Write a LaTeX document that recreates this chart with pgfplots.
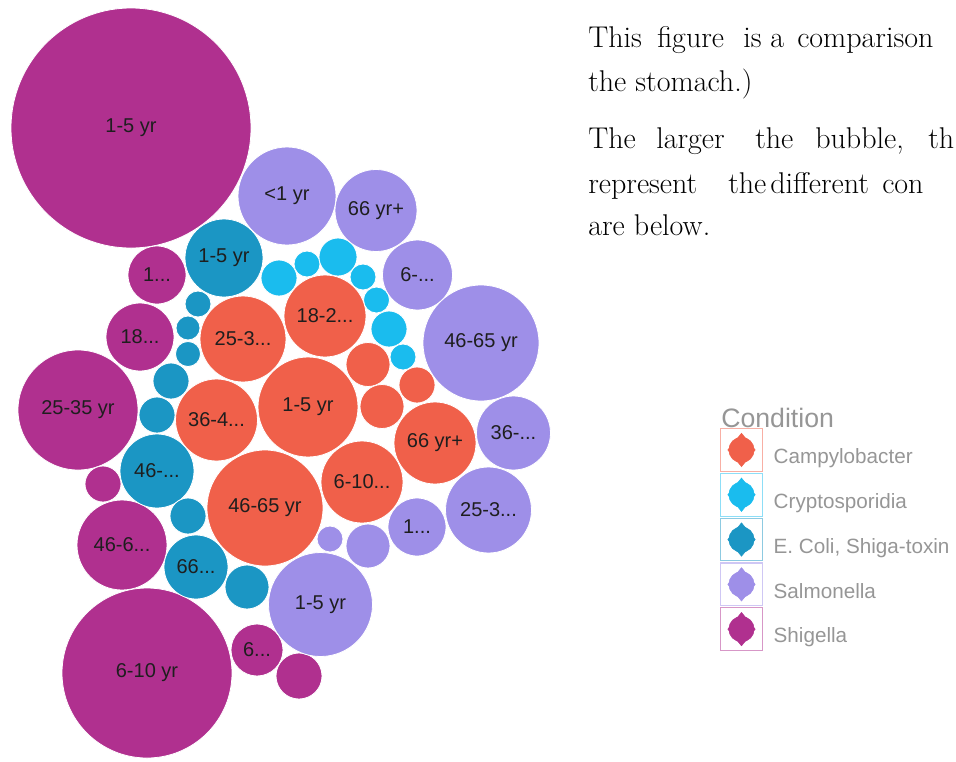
\documentclass[border=0pt]{standalone}
\usepackage{fontspec}
\usepackage{pgfplots}
\usepackage{pgfplotstable}
\pgfplotsset{compat=1.18}
\newfontfamily\chartfont{Liberation Sans}
\definecolor{campy}{RGB}{240,96,74}
\definecolor{crypto}{RGB}{26,188,238}
\definecolor{ecoli}{RGB}{27,150,196}
\definecolor{salm}{RGB}{158,143,232}
\definecolor{shig}{RGB}{176,48,143}
\definecolor{labtext}{RGB}{30,30,30}
\definecolor{legtext}{RGB}{150,150,150}
\newcommand\paratext{\fontsize{22.5}{27}\selectfont}
% x, y = bubble centre (pixels from top left), r = radius (pixels)
\pgfplotstableread[col sep=comma, row sep=\\]{
x,y,r,lab\\
131,128,120,1-5 yr\\
157,275,29,1...\\
140,337,34,18...\\
78,410,60,25-35 yr\\
103,484,18,~\\
122,545,45,46-6...\\
147,673,85,6-10 yr\\
257,650,26,6...\\
299,676,23,~\\
}\shigtab
\pgfplotstableread[col sep=comma, row sep=\\]{
x,y,r,lab\\
224,258,39,1-5 yr\\
198,304,13,~\\
188,328,12,~\\
188,354,12.5,~\\
171,381,18,~\\
157,415,18,~\\
157,471,37,46-...\\
188,516,18,~\\
196,567,32,66...\\
247,587,22,~\\
}\ecolitab
\pgfplotstableread[col sep=comma, row sep=\\]{
x,y,r,lab\\
279,278,18,~\\
307,264,13,~\\
338,257,19,~\\
363,277,13,~\\
376.5,300,13,~\\
389,329,18,~\\
403,357,13,~\\
}\cryptotab
\pgfplotstableread[col sep=comma, row sep=\\]{
x,y,r,lab\\
243,339,43,25-3...\\
325,316,41,18-2...\\
308,407,50,1-5 yr\\
216.5,420,41,36-4...\\
265,508,58,46-65 yr\\
362,482,41,6-10...\\
435,443,41,66 yr+\\
368,364.5,22,~\\
382,406.5,22,~\\
417,385,18,~\\
}\campytab
\pgfplotstableread[col sep=comma, row sep=\\]{
x,y,r,lab\\
287,196,49,<1 yr\\
376,210.5,41,66 yr+\\
417.5,275,35,6-...\\
481,343,58,46-65 yr\\
513.5,433,37,36-...\\
488.5,510,43,25-3...\\
417,527,29,1...\\
368,546,22,~\\
330,539,13,~\\
320.5,604.5,52,1-5 yr\\
}\salmtab
\pgfplotsset{
  bub/.style={scatter, only marks, mark=*, point meta=explicit,
    point meta min=0, point meta max=1000,
    scatter/use mapped color={draw=white, fill=#1, line width=0.6pt},
    scatter/@pre marker code/.append style={/tikz/mark size=0.75*\pgfplotspointmetatransformed},
    forget plot,
  },
  bublab/.style={only marks, mark=none, point meta=explicit symbolic,
    nodes near coords,
    every node near coord/.append style={anchor=center, font=\chartfont\fontsize{15}{17}\selectfont, text=labtext, inner sep=0pt},
    forget plot,
  },
  legimg/.style={legend image code/.code={
     \draw[#1!50, line width=0.8pt] (0pt,-10.5pt) rectangle (31.5pt,21.5pt);
     \fill[#1] (15.75pt,5.5pt) circle (9.5pt);
     \fill[#1] (15.75pt,-7pt) -- (26pt,5.5pt) -- (15.75pt,18pt) -- (5.5pt,5.5pt) -- cycle;
  }},
}
\begin{document}
\begin{tikzpicture}
\useasboundingbox (0,0) rectangle (717pt,570.75pt);
\clip (0,0) rectangle (717pt,570.75pt);
\begin{axis}[
  at={(0,0)}, anchor=south west,
  x=0.75pt, y=0.75pt, y dir=reverse,
  xmin=0, xmax=956, ymin=0, ymax=761,
  scale only axis, axis line style={draw=none}, ticks=none,
  clip=false,
  legend style={at={(0.7531,0.4375)}, anchor=north west, draw=none, fill=none,
    inner sep=0pt, outer sep=0pt, row sep=0.8pt,
    font=\chartfont\fontsize{15.5}{17}\selectfont, text=legtext,
    /tikz/every odd column/.append style={column sep=6pt}},
  legend cell align=left,
]
\addplot[bub=shig] table[x=x, y=y, meta=r] {\shigtab};
\addplot[bub=ecoli] table[x=x, y=y, meta=r] {\ecolitab};
\addplot[bub=crypto] table[x=x, y=y, meta=r] {\cryptotab};
\addplot[bub=campy] table[x=x, y=y, meta=r] {\campytab};
\addplot[bub=salm] table[x=x, y=y, meta=r] {\salmtab};
\addplot[bublab] table[x=x, y=y, meta=lab] {\shigtab};
\addplot[bublab] table[x=x, y=y, meta=lab] {\ecolitab};
\addplot[bublab] table[x=x, y=y, meta=lab] {\campytab};
\addplot[bublab] table[x=x, y=y, meta=lab] {\salmtab};
\addlegendimage{legimg=campy}
\addlegendentry{Campylobacter}
\addlegendimage{legimg=crypto}
\addlegendentry{Cryptosporidia}
\addlegendimage{legimg=ecoli}
\addlegendentry{E. Coli, Shiga-toxin}
\addlegendimage{legimg=salm}
\addlegendentry{Salmonella}
\addlegendimage{legimg=shig}
\addlegendentry{Shigella}
\node[anchor=base west, inner sep=0pt, font=\chartfont\fontsize{20}{22}\selectfont, text=legtext] at (axis cs:721,427) {Condition};
% paragraph text
\begin{scope}[every node/.style={anchor=base west, inner sep=0pt, font=\paratext}]
\node at (axis cs:588,47) {This};
\node at (axis cs:657,47) {figure};
\node at (axis cs:743,47) {is};
\node at (axis cs:770,47) {a};
\node at (axis cs:797,47) {comparison};
\node at (axis cs:588,91) {the stomach.)};
\node at (axis cs:588,148) {The};
\node at (axis cs:656,148) {larger};
\node at (axis cs:755,148) {the};
\node at (axis cs:815,148) {bubble,};
\node at (axis cs:928,148) {th};
\node at (axis cs:588,193) {represent};
\node at (axis cs:728,193) {the};
\node at (axis cs:770,193) {different};
\node at (axis cs:882,193) {con};
\node at (axis cs:588,235) {are below.};
\end{scope}
\end{axis}
\end{tikzpicture}
\end{document}
